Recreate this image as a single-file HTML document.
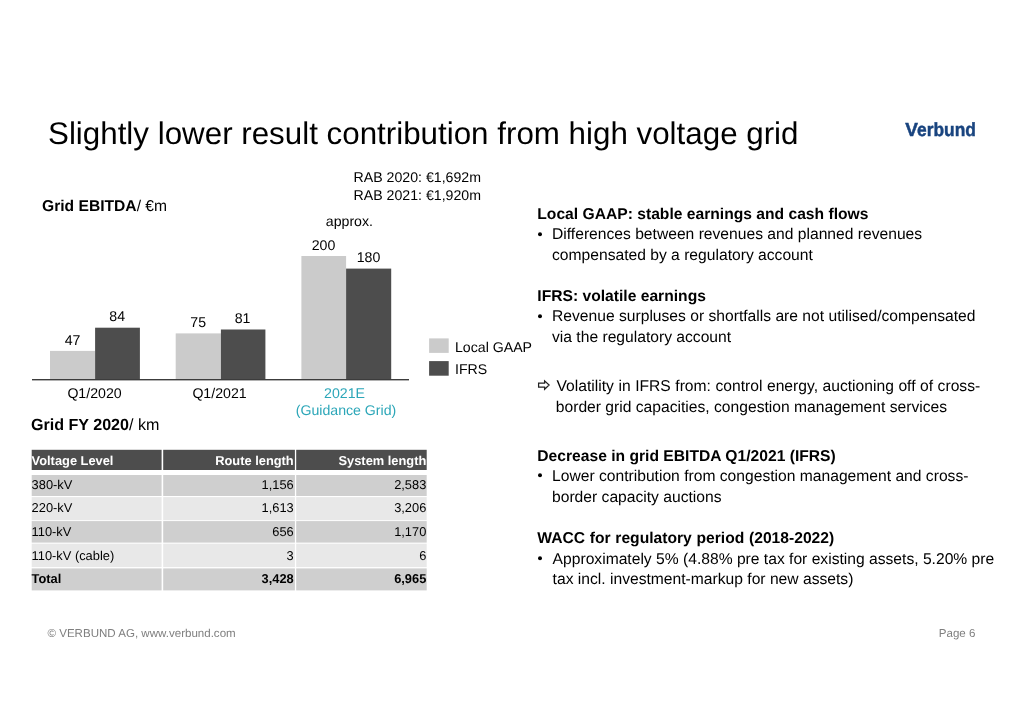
<!DOCTYPE html>
<html><head><meta charset="utf-8"><title>Slightly lower result contribution from high voltage grid</title>
<style>
html,body{margin:0;padding:0;background:#fff;}
body{width:1024px;height:724px;position:relative;overflow:hidden;font-family:"Liberation Sans",sans-serif;color:#000;}
#slide{position:absolute;left:0;top:0;width:1024px;height:724px;will-change:transform;}
.t{position:absolute;white-space:nowrap;line-height:1;text-rendering:geometricPrecision;}
.b{font-weight:bold;}
.r{position:absolute;}
</style></head><body><div id="slide">
<svg class="r" style="left:0;top:0" width="1024" height="724" viewBox="0 0 1024 724"><rect x="50.00" y="350.90" width="45.10" height="28.80" fill="#cbcbcb"/><rect x="95.10" y="327.70" width="44.80" height="52.00" fill="#4d4d4d"/><rect x="175.70" y="333.40" width="45.20" height="46.30" fill="#cbcbcb"/><rect x="220.90" y="329.50" width="44.50" height="50.20" fill="#4d4d4d"/><rect x="301.40" y="256.00" width="44.70" height="123.70" fill="#cbcbcb"/><rect x="346.10" y="268.60" width="45.10" height="111.10" fill="#4d4d4d"/><rect x="32.00" y="379.00" width="377.00" height="1.40" fill="#3c3c3c"/><rect x="429.10" y="338.40" width="19.60" height="14.50" fill="#cbcbcb"/><rect x="429.10" y="361.10" width="19.60" height="14.60" fill="#4d4d4d"/><rect x="31.70" y="449.80" width="129.90" height="20.20" fill="#4d4d4d"/><rect x="163.20" y="449.80" width="131.70" height="20.20" fill="#4d4d4d"/><rect x="296.20" y="449.80" width="130.50" height="20.20" fill="#4d4d4d"/><rect x="31.70" y="475.00" width="129.90" height="21.00" fill="#cfcfcf"/><rect x="163.20" y="475.00" width="131.70" height="21.00" fill="#cfcfcf"/><rect x="296.20" y="475.00" width="130.50" height="21.00" fill="#cfcfcf"/><rect x="31.70" y="497.10" width="129.90" height="23.10" fill="#e8e8e8"/><rect x="163.20" y="497.10" width="131.70" height="23.10" fill="#e8e8e8"/><rect x="296.20" y="497.10" width="130.50" height="23.10" fill="#e8e8e8"/><rect x="31.70" y="521.10" width="129.90" height="21.50" fill="#cfcfcf"/><rect x="163.20" y="521.10" width="131.70" height="21.50" fill="#cfcfcf"/><rect x="296.20" y="521.10" width="130.50" height="21.50" fill="#cfcfcf"/><rect x="31.70" y="543.70" width="129.90" height="23.40" fill="#e8e8e8"/><rect x="163.20" y="543.70" width="131.70" height="23.40" fill="#e8e8e8"/><rect x="296.20" y="543.70" width="130.50" height="23.40" fill="#e8e8e8"/><rect x="31.70" y="568.40" width="129.90" height="22.00" fill="#cfcfcf"/><rect x="163.20" y="568.40" width="131.70" height="22.00" fill="#cfcfcf"/><rect x="296.20" y="568.40" width="130.50" height="22.00" fill="#cfcfcf"/></svg>
<div class="t" style="top:117.68px;font-size:31.33px;left:48.00px;">Slightly lower result contribution from high voltage grid</div>
<div class="t b" style="left:905.2px;top:120.92px;font-size:19px;color:#19447f"><span style="display:inline-block;transform:scaleX(1.0);transform-origin:0 0;-webkit-text-stroke:0.45px #19447f;">V</span><span style="display:inline-block;position:absolute;left:12.0px;top:0;transform:scaleX(0.915);transform-origin:0 0;-webkit-text-stroke:0.45px #19447f;">erbund</span></div>
<div class="t" style="top:340.42px;font-size:14.15px;left:455.00px;">Local GAAP</div>
<div class="t" style="top:361.82px;font-size:14.15px;left:455.00px;">IFRS</div>
<div class="t" style="top:332.52px;font-size:14.15px;left:-127.50px;width:400px;text-align:center;">47</div>
<div class="t" style="top:308.52px;font-size:14.15px;left:-82.80px;width:400px;text-align:center;">84</div>
<div class="t" style="top:315.02px;font-size:14.15px;left:-1.80px;width:400px;text-align:center;">75</div>
<div class="t" style="top:311.02px;font-size:14.15px;left:42.50px;width:400px;text-align:center;">81</div>
<div class="t" style="top:238.02px;font-size:14.15px;left:123.50px;width:400px;text-align:center;">200</div>
<div class="t" style="top:249.62px;font-size:14.15px;left:168.50px;width:400px;text-align:center;">180</div>
<div class="t" style="top:386.22px;font-size:14.15px;left:-105.50px;width:400px;text-align:center;">Q1/2020</div>
<div class="t" style="top:386.22px;font-size:14.15px;left:19.50px;width:400px;text-align:center;">Q1/2021</div>
<div class="t" style="top:386.02px;font-size:14.15px;left:144.50px;width:400px;text-align:center;color:#2ba6b8;">2021E</div>
<div class="t" style="top:402.92px;font-size:14.15px;left:146.00px;width:400px;text-align:center;color:#2ba6b8;">(Guidance Grid)</div>
<div class="t" style="top:214.32px;font-size:14.15px;left:325.80px;">approx.</div>
<div class="t" style="top:169.62px;font-size:14.15px;left:353.60px;">RAB 2020: €1,692m</div>
<div class="t" style="top:188.22px;font-size:14.15px;left:353.60px;">RAB 2021: €1,920m</div>
<div class="t" style="top:199.16px;font-size:15.64px;left:42.00px;"><b>Grid EBITDA</b>/ €m</div>
<div class="t" style="top:416.97px;font-size:16.1px;left:30.90px;"><b>Grid FY 2020</b>/ km</div>
<div class="t b" style="top:455.12px;font-size:12.85px;left:31.60px;color:#fff;">Voltage Level</div>
<div class="t b" style="top:455.12px;font-size:12.85px;left:-106.30px;width:400px;text-align:right;color:#fff;">Route length</div>
<div class="t b" style="top:455.12px;font-size:12.85px;left:26.30px;width:400px;text-align:right;color:#fff;">System length</div>
<div class="t" style="top:478.72px;font-size:12.85px;left:31.60px;">380-kV</div>
<div class="t" style="top:478.72px;font-size:12.85px;left:-106.30px;width:400px;text-align:right;">1,156</div>
<div class="t" style="top:478.72px;font-size:12.85px;left:26.30px;width:400px;text-align:right;">2,583</div>
<div class="t" style="top:502.12px;font-size:12.85px;left:31.60px;">220-kV</div>
<div class="t" style="top:502.12px;font-size:12.85px;left:-106.30px;width:400px;text-align:right;">1,613</div>
<div class="t" style="top:502.12px;font-size:12.85px;left:26.30px;width:400px;text-align:right;">3,206</div>
<div class="t" style="top:526.12px;font-size:12.85px;left:31.60px;">110-kV</div>
<div class="t" style="top:526.12px;font-size:12.85px;left:-106.30px;width:400px;text-align:right;">656</div>
<div class="t" style="top:526.12px;font-size:12.85px;left:26.30px;width:400px;text-align:right;">1,170</div>
<div class="t" style="top:549.52px;font-size:12.85px;left:31.60px;">110-kV (cable)</div>
<div class="t" style="top:549.52px;font-size:12.85px;left:-106.30px;width:400px;text-align:right;">3</div>
<div class="t" style="top:549.52px;font-size:12.85px;left:26.30px;width:400px;text-align:right;">6</div>
<div class="t b" style="top:573.12px;font-size:12.85px;left:31.60px;">Total</div>
<div class="t b" style="top:573.12px;font-size:12.85px;left:-106.30px;width:400px;text-align:right;">3,428</div>
<div class="t b" style="top:573.12px;font-size:12.85px;left:26.30px;width:400px;text-align:right;">6,965</div>
<div class="t b" style="top:206.50px;font-size:15.65px;left:537.30px;">Local GAAP: stable earnings and cash flows</div>
<svg class="r" style="left:535px;top:228.50px" width="10" height="10" viewBox="0 0 10 10"><circle cx="5" cy="5.15" r="2" fill="#000"/></svg>
<div class="t" style="top:227.25px;font-size:15.65px;left:552.00px;">Differences between revenues and planned revenues</div>
<div class="t" style="top:247.75px;font-size:15.65px;left:552.00px;">compensated by a regulatory account</div>
<div class="t b" style="top:289.00px;font-size:15.65px;left:537.30px;">IFRS: volatile earnings</div>
<svg class="r" style="left:535px;top:310.50px" width="10" height="10" viewBox="0 0 10 10"><circle cx="5" cy="5.15" r="2" fill="#000"/></svg>
<div class="t" style="top:309.25px;font-size:15.65px;left:552.00px;">Revenue surpluses or shortfalls are not utilised/compensated</div>
<div class="t" style="top:329.75px;font-size:15.65px;left:552.00px;">via the regulatory account</div>
<svg class="r" style="left:537px;top:379px" width="14" height="12" viewBox="0 0 14 12"><path d="M1.6 4.1 H7.6 V1.9 L12.1 6.05 L7.6 10.2 V8.0 H1.6 Z" fill="none" stroke="#222" stroke-width="1.25"/></svg>
<div class="t" style="top:379.00px;font-size:15.65px;left:556.50px;word-spacing:0.2px;">Volatility in IFRS from: control energy, auctioning off of cross-</div>
<div class="t" style="top:399.50px;font-size:15.65px;left:555.80px;">border grid capacities, congestion management services</div>
<div class="t b" style="top:448.50px;font-size:15.65px;left:537.30px;">Decrease in grid EBITDA Q1/2021 (IFRS)</div>
<svg class="r" style="left:535px;top:470.25px" width="10" height="10" viewBox="0 0 10 10"><circle cx="5" cy="5.15" r="2" fill="#000"/></svg>
<div class="t" style="top:469.00px;font-size:15.65px;left:552.00px;">Lower contribution from congestion management and cross-</div>
<div class="t" style="top:489.50px;font-size:15.65px;left:552.00px;">border capacity auctions</div>
<div class="t b" style="top:530.75px;font-size:15.65px;left:537.30px;word-spacing:0.35px;">WACC for regulatory period (2018-2022)</div>
<svg class="r" style="left:535px;top:553.00px" width="10" height="10" viewBox="0 0 10 10"><circle cx="5" cy="5.15" r="2" fill="#000"/></svg>
<div class="t" style="top:551.75px;font-size:15.65px;left:552.60px;">Approximately 5% (4.88% pre tax for existing assets, 5.20% pre</div>
<div class="t" style="top:572.25px;font-size:15.65px;left:552.60px;">tax incl. investment-markup for new assets)</div>
<div class="t" style="top:629.22px;font-size:11.55px;left:47.50px;color:#7f7f7f;">© VERBUND AG, www.verbund.com</div>
<div class="t" style="top:629.22px;font-size:11.55px;left:938.80px;color:#7f7f7f;">Page 6</div>
</div></body></html>
